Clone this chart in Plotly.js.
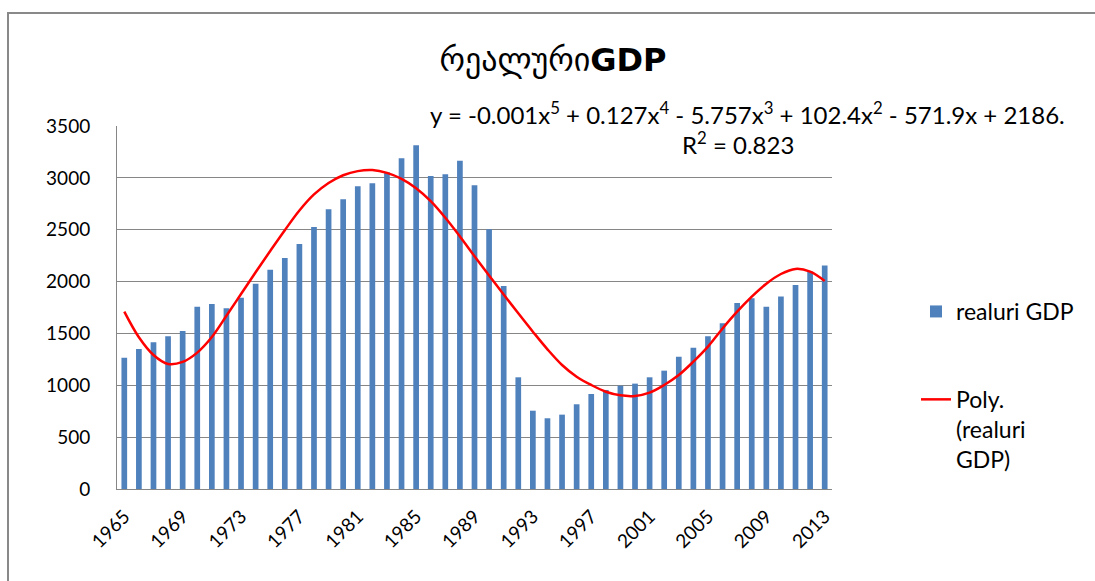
<!DOCTYPE html>
<html>
<head>
<meta charset="utf-8">
<script src="https://cdn.plot.ly/plotly-3.0.1.min.js"></script>
<style>html,body{margin:0;padding:0;background:#fff;}#chart{width:1095px;height:581px;}</style>
</head>
<body>
<div id="chart"></div>
<script>
const years = [1965,1966,1967,1968,1969,1970,1971,1972,1973,1974,1975,1976,1977,1978,1979,1980,1981,1982,1983,1984,1985,1986,1987,1988,1989,1990,1991,1992,1993,1994,1995,1996,1997,1998,1999,2000,2001,2002,2003,2004,2005,2006,2007,2008,2009,2010,2011,2012,2013];
const realGDP = [1265,1350,1414,1472,1524,1758,1784,1742,1845,1980,2115,2228,2363,2527,2697,2794,2919,2948,3054,3189,3314,3018,3035,3166,2928,2504,1958,1077,755,682,717,817,916,955,996,1016,1077,1141,1276,1363,1472,1598,1794,1839,1758,1855,1967,2096,2154];
const polyTrend = [1710,1463,1292,1205,1225,1315,1465,1670,1880,2090,2295,2495,2685,2840,2950,3025,3065,3075,3048,2990,2900,2775,2615,2435,2245,2058,1875,1694,1517,1347,1196,1083,1003,938,903,897,929,1003,1099,1228,1373,1548,1710,1855,1980,2073,2122,2096,2006];
const tickYears = [1965,1969,1973,1977,1981,1985,1989,1993,1997,2001,2005,2009,2013];
const yTicks = [0,500,1000,1500,2000,2500,3000,3500];
const titleText = 'რეალური<b>GDP</b>';
const barName = 'realuri GDP';
const lineName = 'Poly.<br>(realuri<br>GDP)';
const eqText = 'y = -0.001x<sup>5</sup> + 0.127x<sup>4</sup> - 5.757x<sup>3</sup> + 102.4x<sup>2</sup> - 571.9x + 2186.';
const r2Text = 'R<sup>2</sup> = 0.823';

const font = 'Lato, "DejaVu Sans", sans-serif';
const data = [
  {type:'bar', x:years, y:realGDP, name:barName, marker:{color:'#4F81BD'}, legendgroup:'a'},
  {type:'scatter', mode:'lines', x:years, y:polyTrend, name:lineName, line:{color:'#FF0000', width:2.5, shape:'spline', smoothing:1}, legendgroup:'b'}
];
const layout = {
  width:1095, height:581,
  margin:{l:117, r:263, t:126, b:92},
  paper_bgcolor:'#fff', plot_bgcolor:'#fff',
  font:{family:font, color:'#000', size:20},
  bargap:0.61,
  title:{text:titleText, x:553/1095, xanchor:'center', y:1-60/581, yanchor:'middle', font:{family:'"DejaVu Sans", Lato, sans-serif', size:32, color:'#000'}},
  xaxis:{range:[1964.5,2013.5], tickmode:'array', tickvals:tickYears, ticktext:tickYears.map(String), tickangle:-45, showgrid:false, zeroline:false, showline:true, linecolor:'#868686', linewidth:1, ticks:'', ticklabelstandoff:8, tickfont:{size:19}},
  yaxis:{range:[0,3500], tickmode:'array', tickvals:yTicks, showgrid:true, gridcolor:'#868686', gridwidth:1, zeroline:false, showline:true, linecolor:'#868686', linewidth:1, ticks:'', ticklabelstandoff:22, tickfont:{size:19}},
  legend:{x:(916-117)/715, xanchor:'left', y:(489-290)/363, yanchor:'top', font:{size:23}, tracegroupgap:55, valign:'top', bgcolor:'rgba(0,0,0,0)'},
  annotations:[
    {xref:'paper', yref:'paper', x:(428-117)/715, y:(489-113)/363, xanchor:'left', yanchor:'middle', text:eqText, showarrow:false, font:{size:24, color:'#000'}},
    {xref:'paper', yref:'paper', x:(738-117)/715, y:(489-143)/363, xanchor:'center', yanchor:'middle', text:r2Text, showarrow:false, font:{size:24, color:'#000'}}
  ],
  shapes:[
    {type:'rect', xref:'paper', yref:'paper', x0:(8-117)/715, x1:1.5, y0:-0.5, y1:(489-13)/363, line:{color:'#898989', width:2}, fillcolor:'rgba(0,0,0,0)', layer:'below'}
  ]
};
Plotly.newPlot('chart', data, layout, {displayModeBar:false, staticPlot:true});
</script>
</body>
</html>
